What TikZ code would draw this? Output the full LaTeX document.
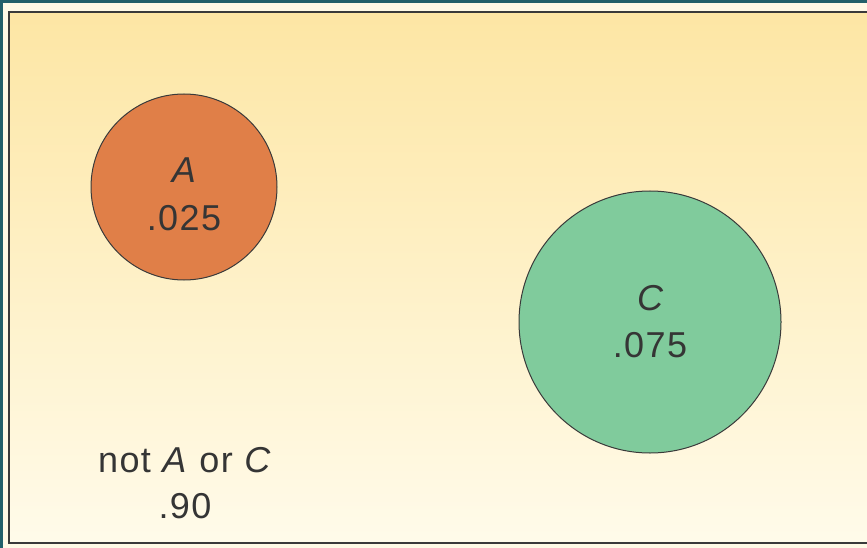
\documentclass[tikz,border=0pt]{standalone}
\usepackage{fontspec}
\setmainfont{Liberation Sans}[LetterSpace=4]
\definecolor{frameteal}{HTML}{22606A}
\definecolor{creamstrip}{HTML}{FFFAE6}
\definecolor{bgtop}{HTML}{FDE6A4}
\definecolor{bgbot}{HTML}{FFFBEA}
\definecolor{borderline}{HTML}{3A3A3A}
\definecolor{fillA}{HTML}{E07F48}
\definecolor{fillC}{HTML}{80CB9C}
\definecolor{txt}{HTML}{353535}
\begin{document}
\begin{tikzpicture}[x=1pt,y=-1pt,
  setcircle/.style={draw=borderline,line width=1pt,circle,inner sep=0pt},
  lbl/.style={anchor=base,text=txt,font=\fontsize{36}{46}\selectfont,inner sep=0pt}]
\useasboundingbox (0,0) rectangle (867,548);
\fill[frameteal] (0,0) rectangle (867,548);
\fill[creamstrip] (3,3) rectangle (870,551);
\shade[top color=bgtop,bottom color=bgbot] (9,12) rectangle (870,543);
\draw[borderline,line width=2.2pt] (870,12) -- (9,12) -- (9,543) -- (870,543);
\node[setcircle,fill=fillA,minimum size=186pt] (A) at (184,187) {};
\node[setcircle,fill=fillC,minimum size=262pt] (C) at (650,322) {};
\node[lbl] (Aname) at (184,183) {\itshape A};
\node[lbl] (Aval) at (184,230) {.025};
\node[lbl] (Cname) at (650,310) {\itshape C};
\node[lbl] (Cval) at (650,357) {.075};
\node[lbl] (Nname) at (185,472) {not \textit{A} or \textit{C}};
\node[lbl] (Nval) at (185,518) {.90};
\end{tikzpicture}
\end{document}
